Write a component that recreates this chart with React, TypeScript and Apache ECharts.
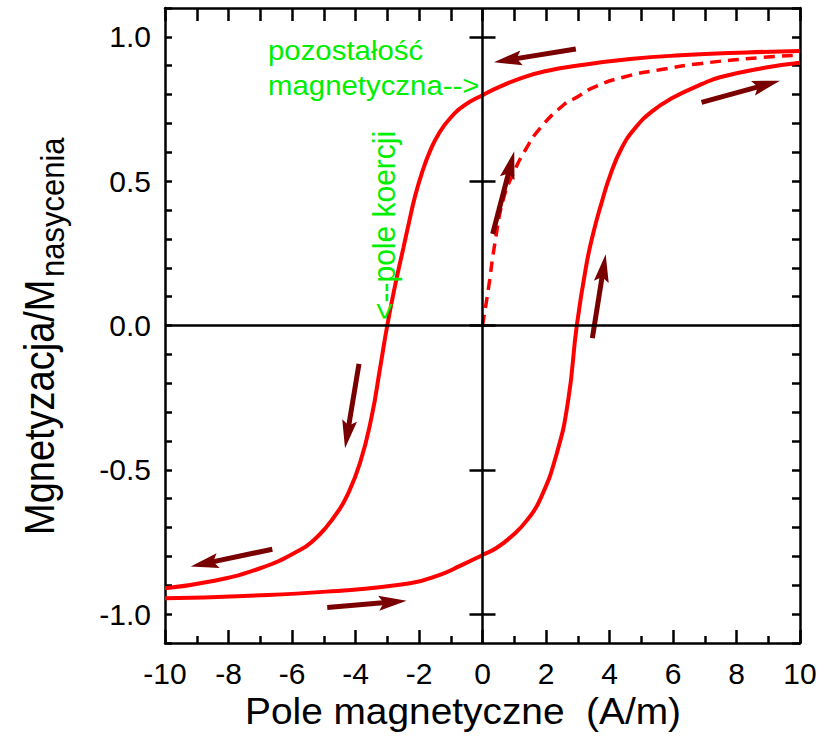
import React, { useEffect, useRef } from "react";
import * as echarts from "echarts";

// ---- data ----
// descending branch (upper), ordered by field
const upperField = [-10, -8.58, -7.0, -5.75, -5.3, -4.91, -4.6, -4.28, -3.86, -3.49, -3.23, -3.0, -2.76, -2.49, -2.31, -2.13, -1.89, -1.65, -1.39, -1.02, -0.55, 0, 0.6, 1.29, 2.02, 2.91, 4.65, 6.22, 8.32, 10];
const upperMag = [-0.91, -0.887, -0.841, -0.778, -0.742, -0.697, -0.652, -0.593, -0.477, -0.315, -0.15, 0.0, 0.135, 0.27, 0.36, 0.445, 0.535, 0.605, 0.662, 0.718, 0.764, 0.798, 0.83, 0.86, 0.882, 0.899, 0.923, 0.936, 0.946, 0.951];

// ascending branch (lower)
const lowerField = [-10, -7.53, -4.91, -2.28, -1.3, -0.71, 0, 0.45, 0.97, 1.39, 1.81, 2.34, 2.7, 2.97, 3.28, 3.5, 3.75, 4.02, 4.38, 4.8, 5.33, 5.96, 6.9, 7.48, 8.84, 10];
const lowerMag = [-0.945, -0.937, -0.922, -0.893, -0.862, -0.833, -0.795, -0.77, -0.725, -0.676, -0.604, -0.443, -0.258, 0, 0.215, 0.325, 0.425, 0.52, 0.614, 0.683, 0.741, 0.787, 0.836, 0.86, 0.892, 0.91];

// initial magnetisation curve (dashed)
const virginField = [0, 0.18, 0.39, 0.65, 0.97, 1.35, 1.81, 2.55, 2.91, 3.54, 4.49, 5.54, 6.9, 8.84, 10];
const virginMag = [0, 0.123, 0.285, 0.435, 0.527, 0.608, 0.683, 0.764, 0.787, 0.827, 0.862, 0.885, 0.908, 0.929, 0.937];

// direction arrows: from (x, y) to tip (x, y)
const arrowFromX = [2.94, 6.9, 0.32, 3.46, -3.89, -6.62, -4.89];
const arrowFromY = [0.958, 0.773, 0.317, -0.044, -0.133, -0.775, -0.977];
const arrowToX = [0.36, 9.37, 1.0, 3.88, -4.33, -9.19, -2.39];
const arrowToY = [0.912, 0.848, 0.604, 0.247, -0.425, -0.835, -0.954];

// axes
const xMin = -10;
const xMax = 10;
const yMin = -1.1;
const yMax = 1.1;
const yMajorTicks = [-1, -0.5, 0, 0.5, 1];

// texts
const xTitle = "Pole magnetyczne  (A/m)";
const yTitleMain = "Mgnetyzacja/M";
const yTitleSub = "nasycenia";
const remanenceLine1 = "pozostałość";
const remanenceLine2 = "magnetyczna-->";
const coercivityText = "<--pole koercji";

const FONT = "Liberation Sans, Arial, Helvetica, sans-serif";
const RED = "#ff0000";
const ARROW = "#7a0000";
const GREEN = "#00ee00";

const pairs = (xs: number[], ys: number[]) => xs.map((x, i) => [x, ys[i]]);

export default function App() {
  const ref = useRef<HTMLDivElement>(null);

  useEffect(() => {
    if (!ref.current) return;
    const chart = echarts.init(ref.current, undefined, { renderer: "svg" });

    const lineAxisStyle = { color: "#000", width: 2.5 };

    const yLabelFormatter = (v: number) => {
      const twice = v * 2;
      if (Math.abs(twice - Math.round(twice)) > 1e-6) return "";
      if (Math.abs(v) < 1e-9) return "0.0";
      return v.toFixed(1);
    };

    const arrowData = arrowFromX.map((x, i) => [x, arrowFromY[i], arrowToX[i], arrowToY[i]]);

    const curve = (name: string, xs: number[], ys: number[], width: number, type: any) => ({
      name,
      type: "line",
      data: pairs(xs, ys),
      showSymbol: false,
      symbol: "none",
      smooth: 0.5,
      lineStyle: { color: RED, width, type },
      z: 3,
    });

    const option: any = {
      animation: false,
      backgroundColor: "#fff",
      grid: { left: 165, right: 34, top: 8, bottom: 93, containLabel: false },
      xAxis: [
        {
          type: "value",
          position: "bottom",
          min: xMin,
          max: xMax,
          interval: 2,
          axisLine: { show: true, onZero: false, lineStyle: lineAxisStyle },
          axisTick: { show: true, inside: true, length: 13, lineStyle: lineAxisStyle },
          minorTick: { show: true, splitNumber: 2, length: 7, lineStyle: lineAxisStyle },
          splitLine: { show: false },
          minorSplitLine: { show: false },
          axisLabel: { show: true, color: "#000", fontSize: 30, fontFamily: FONT, margin: 15 },
        },
        {
          type: "value",
          position: "top",
          min: xMin,
          max: xMax,
          interval: 1,
          axisLine: { show: true, onZero: false, lineStyle: lineAxisStyle },
          axisTick: { show: true, inside: true, length: 13, lineStyle: lineAxisStyle },
          splitLine: { show: false },
          axisLabel: { show: false },
        },
      ],
      yAxis: [
        {
          type: "value",
          position: "left",
          min: yMin,
          max: yMax,
          interval: 0.1,
          axisLine: { show: true, onZero: false, lineStyle: lineAxisStyle },
          axisTick: { show: true, inside: true, length: 7, lineStyle: lineAxisStyle },
          splitLine: { show: false },
          axisLabel: {
            show: true,
            color: "#000",
            fontSize: 30,
            fontFamily: FONT,
            margin: 14,
            padding: [0, 0, 7, 0],
            formatter: yLabelFormatter,
          },
        },
        {
          type: "value",
          position: "left",
          min: yMin,
          max: yMax,
          axisLine: { show: false },
          axisTick: { show: true, inside: true, length: 13, lineStyle: lineAxisStyle, customValues: yMajorTicks },
          splitLine: { show: false },
          axisLabel: { show: false },
        },
        {
          type: "value",
          position: "right",
          min: yMin,
          max: yMax,
          interval: 0.1,
          axisLine: { show: true, onZero: false, lineStyle: lineAxisStyle },
          axisTick: { show: true, inside: true, length: 8, lineStyle: lineAxisStyle },
          splitLine: { show: false },
          axisLabel: { show: false },
        },
        {
          type: "value",
          position: "right",
          min: yMin,
          max: yMax,
          axisLine: { show: false },
          axisTick: { show: true, inside: true, length: 13, lineStyle: lineAxisStyle, customValues: yMajorTicks },
          splitLine: { show: false },
          axisLabel: { show: false },
        },
      ],
      series: [
        {
          name: "zero",
          type: "line",
          data: [[0, 0]],
          showSymbol: false,
          symbol: "none",
          lineStyle: { opacity: 0 },
          silent: true,
          z: 1,
          markLine: {
            silent: true,
            symbol: ["none", "none"],
            label: { show: false },
            lineStyle: { color: "#000", width: 2.5, type: "solid" },
            emphasis: { disabled: true },
            data: [{ xAxis: 0 }, { yAxis: 0 }],
          },
        },
        curve("upper", upperField, upperMag, 4, "solid"),
        curve("lower", lowerField, lowerMag, 4, "solid"),
        curve("virgin", virginField, virginMag, 3.5, [11, 7]),
        {
          name: "arrows",
          type: "custom",
          data: arrowData,
          encode: { x: [0, 2], y: [1, 3] },
          z: 4,
          silent: true,
          renderItem: (params: any, api: any) => {
            const p1 = api.coord([api.value(0), api.value(1)]);
            const p2 = api.coord([api.value(2), api.value(3)]);
            const dx = p2[0] - p1[0];
            const dy = p2[1] - p1[1];
            const len = Math.hypot(dx, dy) || 1;
            const ux = dx / len;
            const uy = dy / len;
            const nx = -uy;
            const ny = ux;
            const headLen = 28;
            const headHalf = 7.5;
            const notch = 5;
            const bx = p2[0] - ux * headLen;
            const by = p2[1] - uy * headLen;
            const mx = p2[0] - ux * (headLen - notch);
            const my = p2[1] - uy * (headLen - notch);
            return {
              type: "group",
              children: [
                {
                  type: "line",
                  shape: { x1: p1[0], y1: p1[1], x2: mx + ux * 2, y2: my + uy * 2 },
                  style: { stroke: ARROW, lineWidth: 5, lineCap: "butt" },
                },
                {
                  type: "polygon",
                  shape: {
                    points: [
                      [p2[0], p2[1]],
                      [bx + nx * headHalf, by + ny * headHalf],
                      [mx, my],
                      [bx - nx * headHalf, by - ny * headHalf],
                    ],
                  },
                  style: { fill: ARROW },
                },
              ],
            };
          },
        },
      ],
      graphic: [
        {
          type: "text",
          x: 245,
          y: 711,
          scaleX: 1.05,
          style: { text: xTitle, fontSize: 37, fontFamily: FONT, fill: "#000", align: "left", verticalAlign: "middle" },
        },
        {
          type: "text",
          x: 39,
          y: 535,
          rotation: Math.PI / 2,
          scaleY: 1.1,
          style: { text: yTitleMain, fontSize: 38, fontFamily: FONT, fill: "#000", align: "left", verticalAlign: "middle" },
        },
        {
          type: "text",
          x: 52.5,
          y: 277,
          rotation: Math.PI / 2,
          scaleY: 1.1,
          style: { text: yTitleSub, fontSize: 31, fontFamily: FONT, fill: "#000", align: "left", verticalAlign: "middle" },
        },
        {
          type: "text",
          x: 268,
          y: 50,
          scaleX: 1.05,
          z: 10,
          style: { text: remanenceLine1, fontSize: 28, fontFamily: FONT, fill: GREEN, align: "left", verticalAlign: "middle" },
        },
        {
          type: "text",
          x: 268,
          y: 85,
          scaleX: 1.05,
          z: 10,
          style: { text: remanenceLine2, fontSize: 28, fontFamily: FONT, fill: GREEN, align: "left", verticalAlign: "middle" },
        },
        {
          type: "text",
          x: 384,
          y: 320,
          rotation: Math.PI / 2,
          scaleY: 1.07,
          z: 10,
          style: { text: coercivityText, fontSize: 30, fontFamily: FONT, fill: GREEN, align: "left", verticalAlign: "middle" },
        },
      ],
    };

    chart.setOption(option);
    return () => chart.dispose();
  }, []);

  return (
    <div
      ref={ref}
      style={{ position: "absolute", left: 0, top: 0, width: 834, height: 736, background: "#fff" }}
    />
  );
}
